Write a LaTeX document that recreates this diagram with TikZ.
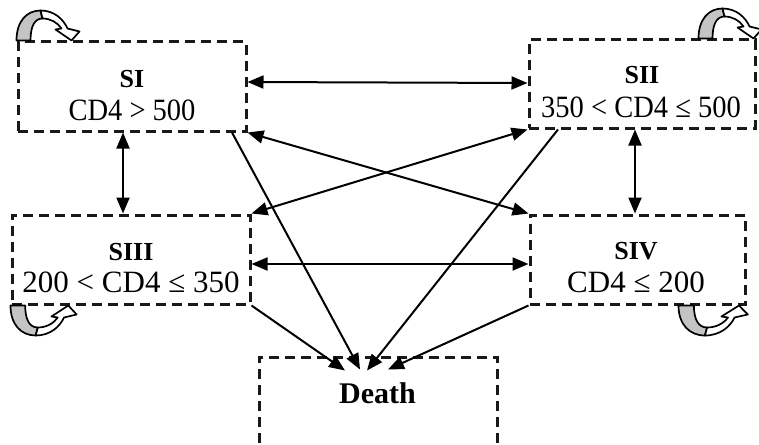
\documentclass[tikz,border=0pt]{standalone}
\usepackage{fontspec}
\setmainfont{Liberation Serif}
\usetikzlibrary{arrows.meta}
\tikzset{
  statebox/.style={draw=black!90, line width=3pt, dash pattern=on 10pt off 6pt, minimum width=#1, minimum height=89pt, inner sep=0pt},
  ttl/.style={anchor=base, inner sep=0pt, font=\fontsize{26}{30}\selectfont\bfseries},
  txt/.style={anchor=base, inner sep=0pt, font=\fontsize{31}{35}\selectfont},
  narrow/.style={transform shape, xscale=0.92},
  conn/.style={line width=2pt, -{Triangle[length=16pt,width=13pt]}},
  conn2/.style={line width=2pt, {Triangle[length=16pt,width=13pt]}-{Triangle[length=16pt,width=13pt]}},
  selfloop/.pic={
    \filldraw[fill=black!23, line width=1.7pt, line join=round]
      (0,0) .. controls (0,-19) and (10,-30) .. (24,-30) -- (26,-22)
      .. controls (18,-22) and (14,-14) .. (14,0) -- cycle;
    \filldraw[fill=white, line width=1.7pt, line join=round]
      (24,-30) .. controls (38,-30) and (47,-21) .. (51,-12) -- (63,-9) -- (55,0)
      -- (39,-11) -- (45,-12) .. controls (41,-18) and (34,-22) .. (26,-22) -- cycle;
  }
}
\begin{document}
\begin{tikzpicture}[x=1pt,y=-1pt]
\useasboundingbox (0,0) rectangle (759,444);
\clip (0,0) rectangle (759,444);
% boxes
\node[statebox=228pt] (si) at (132,86.5) {};
\node[statebox=226pt, minimum height=88pt] (sii) at (642,84) {};
\node[statebox=238pt] (siii) at (131,259.5) {};
\node[statebox=215pt] (siv) at (637.5,259.5) {};
\node[statebox=238pt, minimum height=120pt] (death) at (378,417) {};
% texts
\node[ttl] (siT) at (132,87) {SI};
\node[txt, narrow] (siL) at (132,120) {CD4 > 500};
\node[ttl] (siiT) at (642,83) {SII};
\node[txt, narrow] (siiL) at (641,117) {350 < CD4 ≤ 500};
\node[ttl] (siiiT) at (131,260) {SIII};
\node[txt] (siiiL) at (131,292) {200 < CD4 ≤ 350};
\node[ttl] (sivT) at (636,259) {SIV};
\node[txt] (sivL) at (636,292) {CD4 ≤ 200};
\node[anchor=base, inner sep=0pt, font=\fontsize{30}{34}\selectfont\bfseries] (deathT) at (377.5,403) {Death};
% connectors
\draw[conn2] ([yshift=4.5pt]si.east) -- ([yshift=1pt]sii.west);
\draw[conn2] ([yshift=-4.5pt]siii.east) -- ([yshift=-4.5pt]siv.west);
\draw[conn2] ([xshift=-9pt]si.south) -- ([xshift=-8pt]siii.north);
\draw[conn2] ([xshift=-7pt]sii.south) -- ([xshift=-2.5pt]siv.north);
\draw[conn2] (si.south east) -- (siv.north west);
\draw[conn2] (sii.south west) -- (siii.north east);
\draw[conn] (siii.south east) -- ([xshift=-33pt,yshift=-15pt]death.north);
\draw[conn] ([xshift=100pt]si.south) -- ([xshift=-18pt,yshift=-14pt]death.north);
\draw[conn] ([xshift=-84pt]sii.south) -- ([xshift=-11pt,yshift=-15pt]death.north);
\draw[conn] (siv.south west) -- ([xshift=10pt,yshift=-14pt]death.north);
% self loops
\pic at (si.north west) {selfloop};
\pic at ([xshift=-58pt]sii.north east) {selfloop};
\pic[yscale=-1, xscale=1.05] at (siii.south west) {selfloop};
\pic[yscale=-1, xscale=1.1] at ([xshift=-68pt]siv.south east) {selfloop};
\end{tikzpicture}
\end{document}
